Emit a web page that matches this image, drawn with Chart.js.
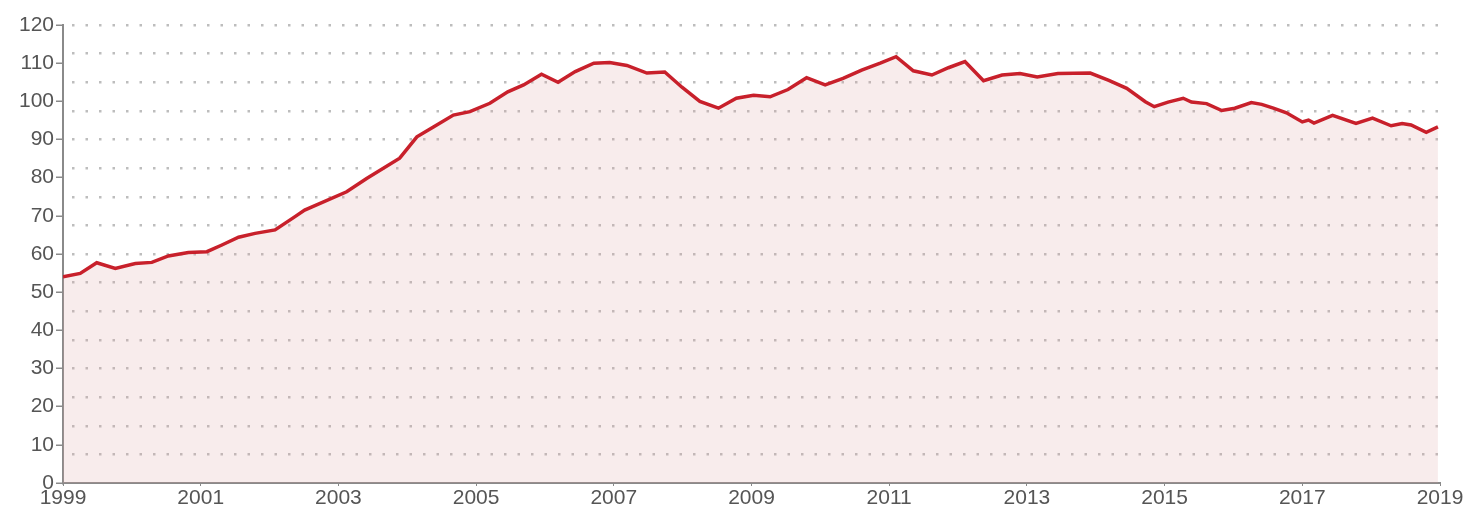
<!DOCTYPE html>
<html>
<head>
<meta charset="utf-8">
<script src="https://cdn.jsdelivr.net/npm/chart.js@4.4.1/dist/chart.umd.min.js"></script>
<style>
  body { margin: 0; background: #fff; }
  #wrap { width: 1469px; height: 514px; position: relative; }
</style>
</head>
<body>
<div id="wrap"><canvas id="myChart"></canvas></div>
<script>
// valeurs (année décimale + indice)
const years = [
  1999.00, 1999.25, 1999.49, 1999.76, 2000.05, 2000.29, 2000.53, 2000.82,
  2001.09, 2001.30, 2001.55, 2001.79, 2002.08, 2002.37, 2002.51, 2003.12,
  2003.41, 2003.89, 2004.14, 2004.38, 2004.67, 2004.91, 2005.20, 2005.46,
  2005.69, 2005.95, 2006.19, 2006.44, 2006.71, 2006.94, 2007.19, 2007.48,
  2007.74, 2007.99, 2008.25, 2008.52, 2008.78, 2009.03, 2009.27, 2009.53,
  2009.80, 2010.07, 2010.33, 2010.60, 2010.87, 2011.10, 2011.35, 2011.62,
  2011.86, 2012.10, 2012.37, 2012.64, 2012.90, 2013.15, 2013.45, 2013.92,
  2014.19, 2014.45, 2014.72, 2014.85, 2015.05, 2015.27, 2015.39, 2015.61,
  2015.83, 2016.02, 2016.26, 2016.41, 2016.58, 2016.77, 2017.00, 2017.09,
  2017.17, 2017.44, 2017.78, 2018.02, 2018.29, 2018.45, 2018.58, 2018.80,
  2018.97
];
const values = [
  54.0, 54.9, 57.7, 56.2, 57.5, 57.8, 59.5, 60.4,
  60.6, 62.3, 64.4, 65.4, 66.3, 69.8, 71.5, 76.3,
  79.8, 85.1, 90.7, 93.3, 96.4, 97.3, 99.5, 102.5,
  104.3, 107.1, 105.0, 107.8, 110.0, 110.2, 109.4, 107.4,
  107.7, 103.7, 100.0, 98.2, 100.8, 101.6, 101.2, 103.1,
  106.2, 104.3, 106.0, 108.2, 110.0, 111.7, 108.0, 106.9,
  108.8, 110.4, 105.4, 106.9, 107.3, 106.4, 107.3, 107.4,
  105.5, 103.4, 99.9, 98.6, 99.8, 100.8, 99.8, 99.4,
  97.6, 98.2, 99.7, 99.2, 98.2, 97.0, 94.6, 95.1,
  94.3, 96.3, 94.2, 95.6, 93.6, 94.2, 93.8, 91.9,
  93.3
];
const xTicks = [1999, 2001, 2003, 2005, 2007, 2009, 2011, 2013, 2015, 2017, 2019];
const yMin = 0, yMax = 120;

const near = (v, step) => Math.abs(v / step - Math.round(v / step)) < 1e-6;

const points = years.map((x, i) => ({ x: x, y: values[i] }));

const config = {
  type: 'line',
  data: {
    datasets: [{
      data: points,
      borderColor: '#c8202b',
      borderWidth: 3.5,
      backgroundColor: 'rgba(220, 160, 160, 0.2)', // laisse voir la grille
      fill: 'origin',
      pointRadius: 0,
      tension: 0
    }]
  },
  options: {
    responsive: true,
    maintainAspectRatio: false,
    animation: false,
    layout: { padding: { left: 0, right: 29, top: 25, bottom: 0 } },
    plugins: { legend: { display: false }, tooltip: { enabled: false } },
    scales: {
      x: {
        type: 'linear',
        min: 1999,
        max: 2019,
        afterBuildTicks: s => { s.ticks = xTicks.map(v => ({ value: v })); },
        afterFit: s => { s.height = 31; },
        grid: { drawOnChartArea: false, drawTicks: true, tickLength: 3, color: '#888' },
        border: { display: true, color: '#8a8a8a', width: 2 },
        ticks: {
          autoSkip: false,
          maxRotation: 0,
          padding: 0,
          color: '#555',
          font: { family: 'Liberation Sans, Arial, sans-serif', size: 21 },
          callback: v => String(v)
        }
      },
      y: {
        min: yMin,
        max: yMax,
        afterFit: s => { s.width = 63; },
        grid: {
          color: c => (near(c.tick.value, 7.5) && c.tick.value > 0) ? '#bdbdbd' : 'rgba(0,0,0,0)',
          lineWidth: 2.5,
          drawTicks: true,
          tickLength: 7,
          tickColor: c => near(c.tick.value, 10) ? '#8a8a8a' : 'rgba(0,0,0,0)',
          tickWidth: 1.5,
          tickBorderDash: []
        },
        border: { display: true, color: '#8a8a8a', width: 2, dash: [2.5, 11], dashOffset: -8 },
        ticks: {
          stepSize: 2.5,
          autoSkip: false,
          padding: 2,
          color: '#555',
          font: { family: 'Liberation Sans, Arial, sans-serif', size: 21 },
          callback: v => near(v, 10) ? String(Math.round(v)) : ''
        }
      }
    }
  }
};

var myChart = new Chart(document.getElementById('myChart'), config);
</script>
</body>
</html>
